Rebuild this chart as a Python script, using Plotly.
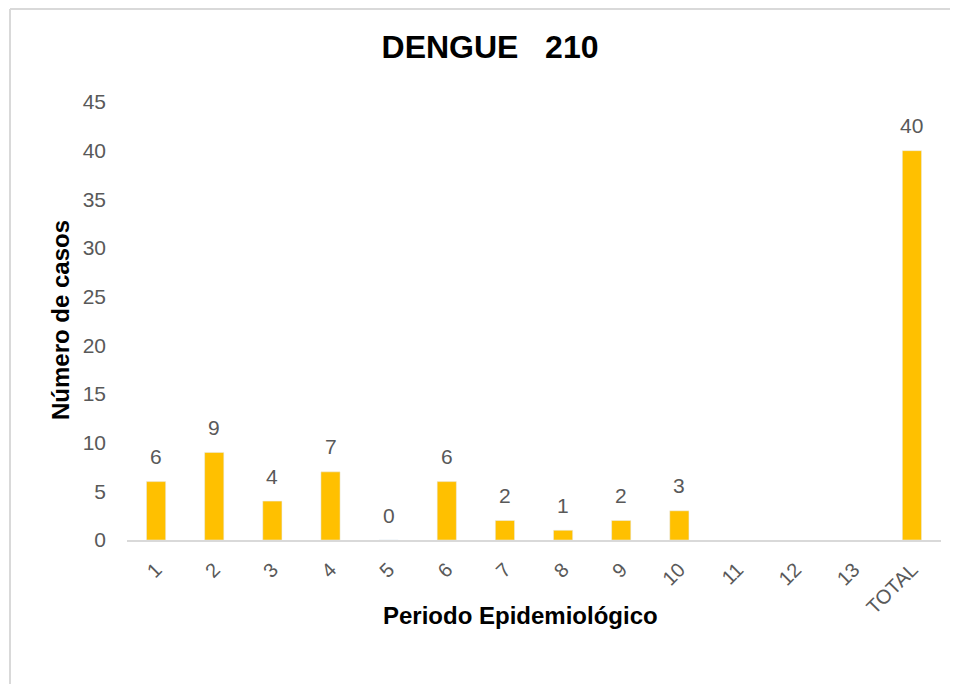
import plotly.graph_objects as go

categories = ["1", "2", "3", "4", "5", "6", "7", "8", "9", "10", "11", "12", "13", "TOTAL"]
cases = [6, 9, 4, 7, 0, 6, 2, 1, 2, 3, None, None, None, 40]
y_ticks = [0, 5, 10, 15, 20, 25, 30, 35, 40, 45]

# The page body adds an 8px offset; the figure is sized to fill the rest.
OFF = 8
W, H = 958 - OFF, 684 - OFF
L, R, T, B = 119, 17, 94, 144
pw = W - L - R
ph = H - T - B

FONT = "Liberation Sans, Arial, sans-serif"


def px_x(p):
    return (p - OFF - L) / pw


def px_y(p):
    return (H - B - (p - OFF)) / ph


fig = go.Figure(go.Bar(
    x=categories,
    y=cases,
    marker_color="#FFC000",
    cliponaxis=False,
    hoverinfo="x+y",
))

# data labels placed on the category axis by category index
label_annotations = [
    dict(text=str(v), x=i, y=v, xref="x", yref="y", showarrow=False,
         xanchor="center", yanchor="middle", yshift=25,
         font=dict(family=FONT, size=21, color="#595959"))
    for i, v in enumerate(cases) if v is not None
]

fig.update_layout(
    width=W, height=H,
    margin=dict(l=L, r=R, t=T, b=B),
    paper_bgcolor="white",
    plot_bgcolor="white",
    bargap=0.67,
    showlegend=False,
    title=dict(
        text="<b>DENGUE\u00a0\u00a0\u00a0210</b>",
        x=(490 - OFF) / W, xref="container", xanchor="center",
        y=1 - (47 - OFF) / H, yref="container", yanchor="middle",
        font=dict(family=FONT, size=32, color="black"),
    ),
    xaxis=dict(
        type="category",
        tickangle=-45,
        tickfont=dict(family=FONT, size=20, color="#595959"),
        showline=True, linecolor="#D9D9D9", linewidth=2,
        showgrid=False, ticks="", automargin=False,
        ticklabelstandoff=8,
    ),
    yaxis=dict(
        range=[0, 45],
        tickvals=y_ticks,
        tickfont=dict(family=FONT, size=21, color="#595959"),
        showgrid=False, zeroline=False, showline=False, ticks="",
        ticklabelstandoff=20,
        automargin=False,
    ),
    annotations=label_annotations + [
        dict(text="<b>Número de casos</b>", xref="paper", yref="paper",
             x=px_x(60), y=px_y(320), textangle=-90, showarrow=False,
             xanchor="center", yanchor="middle",
             font=dict(family=FONT, size=24, color="black")),
        dict(text="<b>Periodo Epidemiológico</b>", xref="paper", yref="paper",
             x=px_x(520), y=px_y(615), showarrow=False,
             xanchor="center", yanchor="middle",
             font=dict(family=FONT, size=24, color="black")),
    ],
    shapes=[
        dict(type="line", xref="paper", yref="paper",
             x0=px_x(10), x1=px_x(970), y0=px_y(9), y1=px_y(9),
             line=dict(color="#D9D9D9", width=2)),
        dict(type="line", xref="paper", yref="paper",
             x0=px_x(10), x1=px_x(10), y0=px_y(9), y1=px_y(700),
             line=dict(color="#D9D9D9", width=2)),
    ],
)

fig.write_html("out.html")
